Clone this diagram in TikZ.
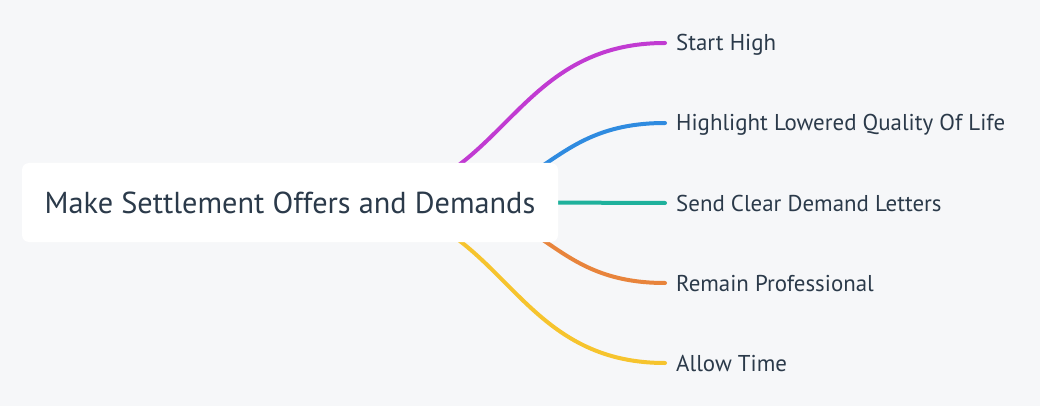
\documentclass[tikz,border=0pt]{standalone}
\usepackage{fontspec}
\setmainfont{PT Sans}
\usetikzlibrary{backgrounds}
\definecolor{bgc}{HTML}{F6F7F9}
\definecolor{txt}{HTML}{2B3A4A}
\definecolor{cpurple}{HTML}{C13BD2}
\definecolor{cblue}{HTML}{2F8BE0}
\definecolor{cteal}{HTML}{1EB19C}
\definecolor{corange}{HTML}{E8843C}
\definecolor{cyellow}{HTML}{F6C42E}
\begin{document}
\begin{tikzpicture}[x=1pt,y=-1pt,
  rootbox/.style={fill=white,rounded corners=7pt,minimum width=536pt,minimum height=79pt,inner sep=0pt,text height=21pt,text depth=0pt,text=txt,font=\fontsize{30.3}{34}\selectfont},
  leaf/.style={anchor=west,inner sep=0pt,text height=16pt,text depth=0pt,text=txt,font=\fontsize{22.9}{26}\selectfont},
  branch/.style={line width=4pt,line cap=round}]
\useasboundingbox (0,0) rectangle (1040,406);
\node[rootbox] (root) at (290,202.5) {Make Settlement Offers and Demands};
\node[leaf] (l1) at (676,43) {Start High};
\node[leaf] (l2) at (676,123) {Highlight Lowered Quality Of Life};
\node[leaf] (l3) at (676,203) {Send Clear Demand Letters};
\node[leaf] (l4) at (676,283) {Remain Professional};
\node[leaf] (l5) at (676,363) {Allow Time};
\begin{pgfonlayer}{background}
\fill[bgc] (0,0) rectangle (1040,406);
\draw[branch,cpurple] ([xshift=56pt]root.center) .. controls +(159,0) and +(-160,0) .. ([xshift=-11pt]l1.west);
\draw[branch,cblue] ([xshift=139pt]root.center) .. controls +(118,0) and +(-118,0) .. ([xshift=-11pt]l2.west);
\draw[branch,cteal] ([xshift=-20pt]root.east) -- ([xshift=-11pt]l3.west);
\draw[branch,corange] ([xshift=139pt]root.center) .. controls +(118,0) and +(-118,0) .. ([xshift=-11pt]l4.west);
\draw[branch,cyellow] ([xshift=56pt]root.center) .. controls +(159,0) and +(-160,0) .. ([xshift=-11pt]l5.west);
\end{pgfonlayer}
\end{tikzpicture}
\end{document}
